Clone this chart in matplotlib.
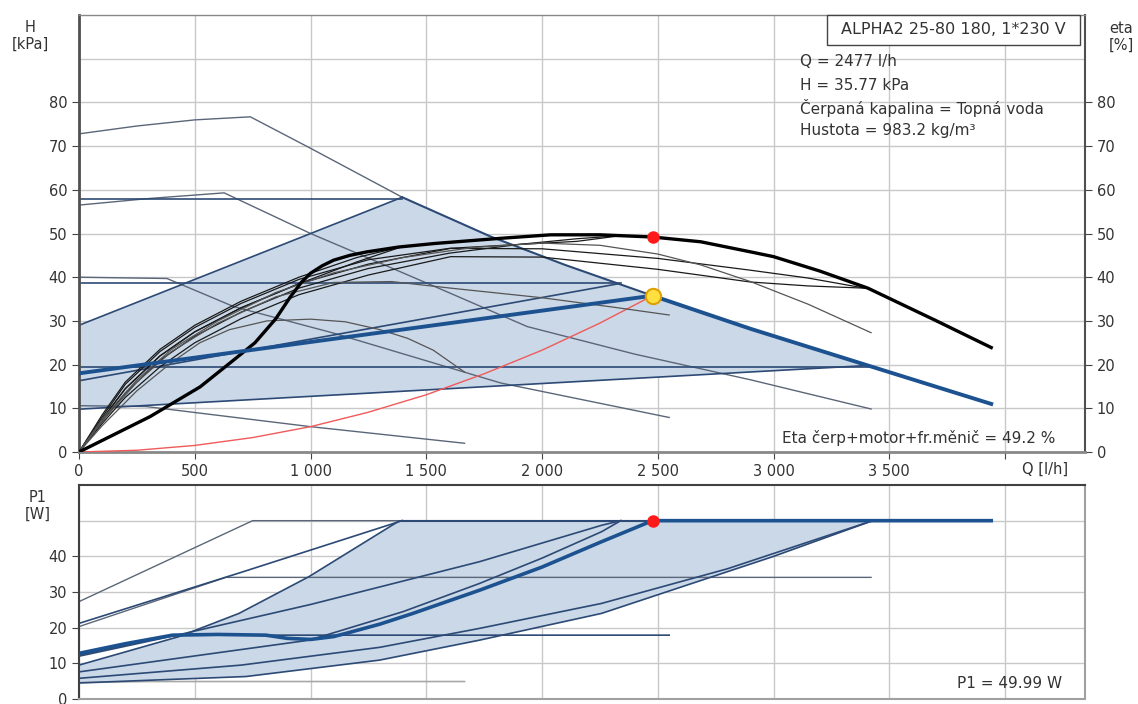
import numpy as np
import matplotlib
matplotlib.use("Agg")
import matplotlib.pyplot as plt
from matplotlib.patches import Rectangle

plt.rcParams['font.family'] = ['DejaVu Sans']

# --- H(Q) curves, Q in l/h, H in kPa ---
q_max = np.array([0, 250, 500, 740, 1000, 1396, 1778, 2100, 2477, 2900, 3407, 3940])
h_max = np.array([72.8, 74.6, 76.0, 76.7, 69.5, 58.3, 49.3, 42.8, 35.77, 28.2, 19.8, 11.0])

q_c3 = [0, 300, 627, 1000, 1302, 1570, 1936, 2400, 2902, 3421]
h_c3 = [56.5, 58.0, 59.3, 50.0, 43.2, 37.1, 28.7, 22.4, 16.5, 9.84]
q_c2 = [0, 380, 667, 1100, 1821, 2549]
h_c2 = [40.0, 39.7, 33.3, 27.2, 15.8, 7.9]
q_c1 = [0, 290, 1000, 1665]
h_c1 = [10.6, 10.4, 5.8, 2.0]

cp_h = [58.0, 38.6, 19.5]
cp_end = [1396, 2340, 3407]

pp3_q, pp3_h = [0, 1396], [29.0, 58.3]
pp2_q, pp2_h = [0, 2330], [16.3, 38.5]
pp1_q, pp1_h = [0, 3407], [9.8, 19.8]

auto_q, auto_h = [0, 2477], [18.0, 35.77]

sys_q = [0, 250, 500, 750, 1000, 1250, 1500, 1750, 2000, 2250, 2477]
sys_h = [0, 0.4, 1.5, 3.3, 5.8, 9.1, 13.1, 17.9, 23.3, 29.5, 35.77]

duty_q, duty_h, duty_eta, duty_p1 = 2477, 35.77, 49.2, 49.99

# --- efficiency curves, eta in % ---
eta_q = [0, 307, 523, 667, 760, 850, 913, 960, 1000, 1050, 1100, 1170, 1244, 1380, 1533,
         1821, 2037, 2250, 2477, 2686, 2900, 3000, 3200, 3407, 3696, 3940]
eta_v = [0, 8.1, 14.9, 21.0, 25.0, 30.5, 35.5, 38.8, 40.9, 42.6, 43.9, 45.0, 45.8, 46.9, 47.7,
         48.9, 49.7, 49.7, 49.2, 48.1, 45.8, 44.7, 41.4, 37.5, 30.2, 23.9]

eta_modes = {
    'cp3': ([0, 100, 200, 350, 500, 700, 950, 1200, 1396],
            [0, 8.5, 16.0, 23.5, 29.0, 34.5, 40.0, 44.5, 47.0]),
    'pp3': ([0, 100, 200, 350, 500, 700, 950, 1200, 1396],
            [0, 7.5, 14.5, 22.0, 27.5, 33.0, 38.5, 43.5, 47.0]),
    'cp2': ([0, 100, 200, 350, 500, 700, 950, 1250, 1600, 1900, 2150, 2340],
            [0, 8.0, 15.5, 23.0, 28.5, 34.0, 39.5, 44.0, 46.6, 47.5, 48.2, 49.5]),
    'pp2': ([0, 100, 200, 350, 500, 700, 950, 1250, 1600, 1900, 2150, 2340],
            [0, 7.0, 13.5, 21.0, 26.5, 32.0, 37.5, 42.0, 45.5, 47.5, 48.8, 49.5]),
    'cp1': ([0, 100, 200, 350, 500, 700, 950, 1250, 1605, 2000, 2500, 2900, 3150, 3393],
            [0, 7.5, 14.5, 22.0, 27.5, 33.0, 38.5, 43.0, 46.6, 46.5, 44.3, 41.6, 39.8, 37.5]),
    'pp1': ([0, 100, 200, 350, 500, 700, 950, 1250, 1605, 2000, 2500, 2900, 3150, 3393],
            [0, 6.5, 12.5, 19.5, 25.0, 30.5, 36.0, 40.5, 44.7, 44.6, 41.8, 38.9, 38.0, 37.5]),
}
eta_c1_q = [0, 100, 250, 400, 522, 650, 812, 1000, 1150, 1300, 1420, 1530, 1665]
eta_c1_v = [0, 6.0, 14.0, 20.5, 25.0, 28.0, 30.0, 30.4, 29.8, 28.0, 26.0, 23.3, 18.3]
eta_c2_q = [0, 100, 250, 400, 600, 850, 1100, 1350, 1605, 2000, 2300, 2549]
eta_c2_v = [0, 7.0, 16.0, 23.0, 29.5, 35.5, 38.8, 39.0, 37.5, 35.3, 33.2, 31.35]
eta_c3_q = [0, 100, 250, 400, 600, 850, 1100, 1400, 1700, 2000, 2250, 2500, 2686, 2900, 3150, 3421]
eta_c3_v = [0, 7.5, 16.5, 23.5, 30.0, 36.5, 41.0, 44.5, 46.8, 47.8, 47.3, 45.3, 42.8, 39.0, 33.8, 27.3]

# --- P1(Q) curves, P1 in W ---
p_max_q, p_max = [0, 750, 3940], [27.3, 50.0, 50.0]
p_c3_q, p_c3 = [0, 634, 3421], [20.3, 34.1, 34.1]
p_c2_q, p_c2 = [0, 404, 2549], [12.3, 17.9, 17.9]
p_c1_q, p_c1 = [0, 290, 1665], [4.6, 4.9, 4.9]
p_cp3_q, p_cp3 = [0, 700, 1396], [21.2, 35.5, 50.0]
p_pp3_q, p_pp3 = [0, 432, 691, 993, 1382, 1396], [9.5, 17.5, 24.0, 34.3, 49.9, 50.0]
p_cp2_q, p_cp2 = [0, 430, 1000, 1730, 2257, 2340], [12.0, 18.0, 26.5, 38.5, 48.7, 50.0]
p_pp2_q, p_pp2 = [0, 995, 1400, 1730, 2000, 2257, 2340], [7.6, 16.5, 24.5, 32.4, 39.5, 46.9, 50.0]
p_cp1_q, p_cp1 = [0, 700, 1300, 1730, 2257, 2800, 3428], [5.8, 9.5, 14.5, 19.8, 26.8, 36.5, 50.0]
p_pp1_q, p_pp1 = [0, 721, 1298, 1730, 2257, 2996, 3428], [4.5, 6.3, 10.9, 16.5, 24.0, 39.9, 50.0]
p_auto_q = [0, 200, 404, 600, 807, 900, 1000, 1100, 1153, 1300, 1442, 1730, 2000, 2257, 2477, 3940]
p_auto = [12.8, 15.5, 17.9, 18.1, 17.9, 17.0, 16.7, 17.5, 18.4, 21.0, 24.0, 30.5, 37.0, 44.1, 50.0, 50.0]

x_ticks = [0, 500, 1000, 1500, 2000, 2500, 3000, 3500, 4000]
x_labels = ['0', '500', '1 000', '1 500', '2 000', '2 500', '3 000', '3 500', '']

navy = '#2c4a75'
slate = '#5b6678'
blue = '#1d5290'
shade = '#cad8e7'
gridc = '#c8c8c8'
txt = '#333333'

W, H = 1138, 704
def px_box(l, t, r, b):
    return [l / W, 1 - b / H, (r - l) / W, (b - t) / H]

fig = plt.figure(figsize=(W / 100, H / 100), dpi=100)
ax1 = fig.add_axes(px_box(79, 15, 1085, 452))
ax2 = fig.add_axes(px_box(79, 485, 1085, 699))

for ax in (ax1, ax2):
    ax.set_xlim(0, 4345)
    ax.set_xticks(x_ticks)
    ax.grid(True, color=gridc, lw=1)
    ax.set_axisbelow(True)

# ---------- upper chart: H and eta ----------
ax1.set_ylim(0, 100)
ax1.set_yticks(range(0, 81, 10))
ax1.axhline(90, color=gridc, lw=1, zorder=0)
ax1.set_xticklabels(x_labels)
ax1.tick_params(axis='both', labelsize=10.5, colors='#444444', labelcolor=txt, length=5)
ax1.tick_params(axis='y', right=True, labelright=True)

sel = (q_max >= 1396) & (q_max <= 3407)
poly_q = np.concatenate([pp3_q, q_max[sel], pp1_q[::-1]])
poly_h = np.concatenate([pp3_h, h_max[sel], pp1_h[::-1]])
ax1.fill(poly_q, poly_h, color=shade, lw=0, zorder=1)

ax1.plot(q_max[q_max <= 1396], h_max[q_max <= 1396], color=slate, lw=1, zorder=2)
ax1.plot(q_max[q_max >= 1396], h_max[q_max >= 1396], color=navy, lw=1.5, zorder=3)
for q, h in ((q_c3, h_c3), (q_c2, h_c2), (q_c1, h_c1)):
    ax1.plot(q, h, color=slate, lw=1, zorder=2)
for h, qe in zip(cp_h, cp_end):
    ax1.plot([0, qe], [h, h], color=navy, lw=1.2, zorder=2)
for q, h in ((pp3_q, pp3_h), (pp2_q, pp2_h), (pp1_q, pp1_h)):
    ax1.plot(q, h, color=navy, lw=1.2, zorder=2)

ax1.plot(sys_q, sys_h, color='#f05a5a', lw=1, zorder=3)

for q, e in eta_modes.values():
    ax1.plot(q, e, color='#1a1a1a', lw=0.9, zorder=4)
for q, e in ((eta_c1_q, eta_c1_v), (eta_c2_q, eta_c2_v), (eta_c3_q, eta_c3_v)):
    ax1.plot(q, e, color='#555555', lw=0.9, zorder=4)
ax1.plot(eta_q, eta_v, color='black', lw=2.4, zorder=5, solid_joinstyle='round')

ax1.plot(auto_q, auto_h, color=blue, lw=2.8, zorder=5)
ax1.plot(q_max[q_max >= duty_q], h_max[q_max >= duty_q], color=blue, lw=2.8, zorder=5)

ax1.plot(duty_q, duty_eta, 'o', color='#ff1a1a', ms=8, zorder=6)
ax1.plot(duty_q, duty_h, 'o', mfc='#ffe040', mec='#e0a000', mew=1.5, ms=11, zorder=6)

for side, c, w in (('left', '#505050', 2), ('bottom', '#888888', 2),
                   ('right', '#505050', 1.5), ('top', '#888888', 1)):
    ax1.spines[side].set_color(c)
    ax1.spines[side].set_linewidth(w)

# ---------- lower chart: P1 ----------
ax2.set_ylim(0, 60)
ax2.set_yticks(range(0, 41, 10))
ax2.axhline(50, color=gridc, lw=1, zorder=0)
ax2.set_xticklabels([])
ax2.tick_params(axis='x', length=0)
ax2.tick_params(axis='y', labelsize=10.5, colors='#444444', labelcolor=txt, length=5)

poly_q = np.concatenate([p_pp3_q, p_pp1_q[::-1]])
poly_p = np.concatenate([p_pp3, p_pp1[::-1]])
ax2.fill(poly_q, poly_p, color=shade, lw=0, zorder=1)

ax2.plot(p_c1_q, p_c1, color='#a8a8a8', lw=1.2, zorder=2)
for q, p in ((p_max_q, p_max), (p_c3_q, p_c3)):
    ax2.plot(q, p, color=slate, lw=1, zorder=2)
ax2.plot(p_c2_q, p_c2, color=navy, lw=1.2, zorder=2)
for q, p in ((p_cp3_q, p_cp3), (p_pp3_q, p_pp3), (p_cp2_q, p_cp2),
             (p_pp2_q, p_pp2), (p_cp1_q, p_cp1), (p_pp1_q, p_pp1)):
    ax2.plot(q, p, color=navy, lw=1.2, zorder=3)
ax2.plot([1396, 3428], [50, 50], color=navy, lw=1.5, zorder=3)
ax2.plot(p_auto_q, p_auto, color=blue, lw=2.6, zorder=5, solid_joinstyle='round')
ax2.plot(duty_q, duty_p1, 'o', color='#ff1a1a', ms=8, zorder=6)

for side, c, w in (('left', '#404040', 1.5), ('top', '#404040', 1.5),
                   ('right', '#a0a0a0', 1.5), ('bottom', '#a0a0a0', 1.5)):
    ax2.spines[side].set_color(c)
    ax2.spines[side].set_linewidth(w)

# ---------- labels and notes ----------
def ftext(x, y, s, **kw):
    kw.setdefault('fontsize', 11)
    kw.setdefault('color', txt)
    return fig.text(x / W, 1 - y / H, s, va='center', **kw)

ftext(30, 36, 'H\n[kPa]', ha='center', fontsize=10.5, linespacing=1.15)
ftext(1121, 37, 'eta\n[%]', ha='center', fontsize=10.5, linespacing=1.15)
ftext(38, 506, 'P1\n[W]', ha='center', fontsize=10.5, linespacing=1.15)
ftext(1045, 469, 'Q [l/h]', ha='center', fontsize=10.5)

fig.patches.append(Rectangle((827 / W, 1 - 45 / H), (1080 - 827) / W, 30 / H,
                             transform=fig.transFigure, facecolor='white',
                             edgecolor='#444444', lw=1, zorder=10))
ftext(953, 30, 'ALPHA2 25-80 180, 1*230 V', ha='center', fontsize=11.5, zorder=11)

notes = ['Q = 2477 l/h', 'H = 35.77 kPa', 'Čerpaná kapalina = Topná voda',
         'Hustota = 983.2 kg/m³']
for i, s in enumerate(notes):
    ftext(800, 62 + i * 23, s, ha='left')

ftext(1055, 438, 'Eta čerp+motor+fr.měnič = 49.2 %', ha='right')
ftext(1062, 683, 'P1 = 49.99 W', ha='right')

fig.savefig('out.png', dpi=100)
